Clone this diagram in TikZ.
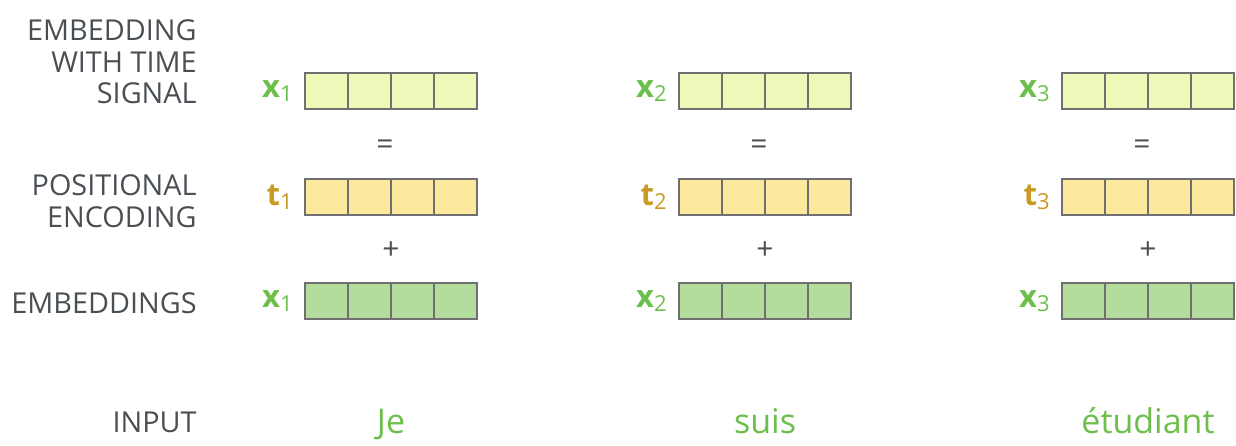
\documentclass[tikz,border=0pt]{standalone}
\usepackage{fontspec}
\setmainfont{Open Sans}
\usetikzlibrary{positioning}

\definecolor{labelgray}{HTML}{4A4F54}
\definecolor{wordgreen}{HTML}{6CBF4A}
\definecolor{tgold}{HTML}{C99B22}
\definecolor{signalfill}{HTML}{EEF8B8}
\definecolor{posfill}{HTML}{FCE99E}
\definecolor{embfill}{HTML}{B3DC9D}
\definecolor{cellgray}{HTML}{707070}

\newcommand{\vecname}[2]{#1\raisebox{-2pt}{\normalfont\fontsize{11}{11}\selectfont #2}}

\begin{document}
\begin{tikzpicture}[
    x=0.5pt, y=-0.5pt,
    cell/.style={draw=cellgray, line width=0.7pt, minimum width=21.5pt, minimum height=18pt, inner sep=0pt, outer sep=0pt},
    rowlabel/.style={align=right, text=labelgray, inner sep=0pt, font=\fontsize{14.4}{15.8}\selectfont},
    veclabel/.style={inner sep=0pt, font=\fontsize{15.5}{16}\selectfont\bfseries},
    op/.style={text=labelgray, inner sep=0pt, font=\fontsize{15}{16}\selectfont},
    word/.style={text=wordgreen, inner sep=0pt, anchor=base, font=\fontsize{17}{20}\selectfont}
]
    \useasboundingbox (0,0) rectangle (1236,445);

    % row labels
    \node[rowlabel, anchor=east] (lsignal) at (197,62) {EMBEDDING\\WITH TIME\\SIGNAL};
    \node[rowlabel, anchor=east] (lpos) at (197,201) {POSITIONAL\\ENCODING};
    \node[rowlabel, anchor=base east] (lemb) at (197,313) {EMBEDDINGS};
    \node[rowlabel, anchor=base east] (linput) at (197,432) {INPUT};

    % one column per input word
    \foreach \c/\bx/\w in {1/305/Je, 2/679/suis, 3/1062/étudiant} {
        \foreach \k in {1,...,4} {
            \node[cell, fill=signalfill] (sig\c-\k) at ({\bx+43*\k-21.5}, 91) {};
            \node[cell, fill=posfill] (pos\c-\k) at ({\bx+43*\k-21.5}, 197) {};
            \node[cell, fill=embfill] (emb\c-\k) at ({\bx+43*\k-21.5}, 301) {};
        }
        \node[veclabel, text=wordgreen, left=6pt of sig\c-1.west, anchor=east] (xs\c) {\vecname{x}{\c}};
        \node[veclabel, text=tgold, left=6pt of pos\c-1.west, anchor=east] (t\c) {\vecname{t}{\c}};
        \node[veclabel, text=wordgreen, left=6pt of emb\c-1.west, anchor=east] (xe\c) {\vecname{x}{\c}};

        \node[op] (eq\c) at ({\bx+80}, 147) {=};
        \node[op] (plus\c) at ({\bx+86}, 251) {+};

        \node[word] (w\c) at ({\bx+86}, 433) {\w};
    }
\end{tikzpicture}
\end{document}
